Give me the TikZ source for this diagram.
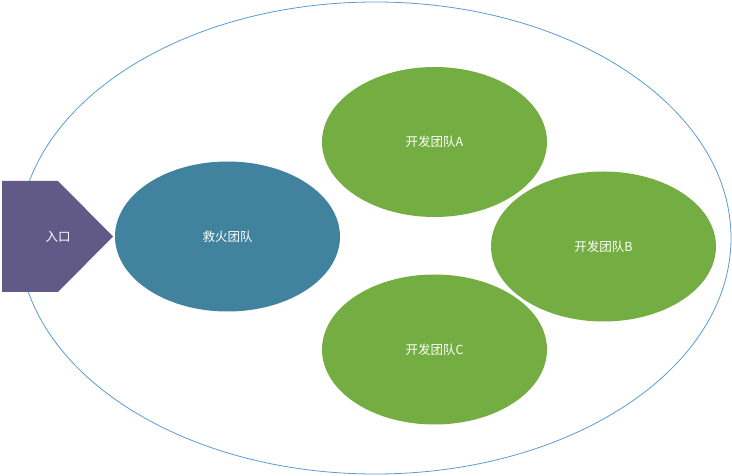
\documentclass[tikz,border=0pt]{standalone}
\usepackage{fontspec}
\setmainfont{Noto Sans CJK SC}
\usetikzlibrary{shapes.geometric}
\definecolor{entrypurple}{HTML}{625A86}
\definecolor{fireblue}{HTML}{41829E}
\definecolor{devgreen}{HTML}{74AD42}
\definecolor{rimblue}{HTML}{5B9BD5}
\tikzset{team/.style={ellipse,fill=#1,minimum width=225pt,minimum height=150pt,inner sep=0pt,text=white}}
\begin{document}
\begin{tikzpicture}[x=1pt,y=-1pt,every node/.style={font=\fontsize{12.5}{14}\selectfont}]
\useasboundingbox (0,0) rectangle (732,476);
\node[ellipse,draw=rimblue,line width=0.8pt,minimum width=712pt,minimum height=472pt,inner sep=0pt] (dept) at (375,238) {};
\fill[entrypurple](2,181)--(58,181)--(113,236.5)--(58,292)--(2,292)--cycle;
\node[text=white] (entry) at (58,236.5) {入口};
\node[team=fireblue] (fire) at (227.5,236.5) {救火团队};
\node[team=devgreen] (devA) at (434.5,142) {开发团队A};
\node[team=devgreen] (devB) at (603.5,246.5) {开发团队B};
\node[team=devgreen] (devC) at (434.5,349.5) {开发团队C};
\end{tikzpicture}
\end{document}
